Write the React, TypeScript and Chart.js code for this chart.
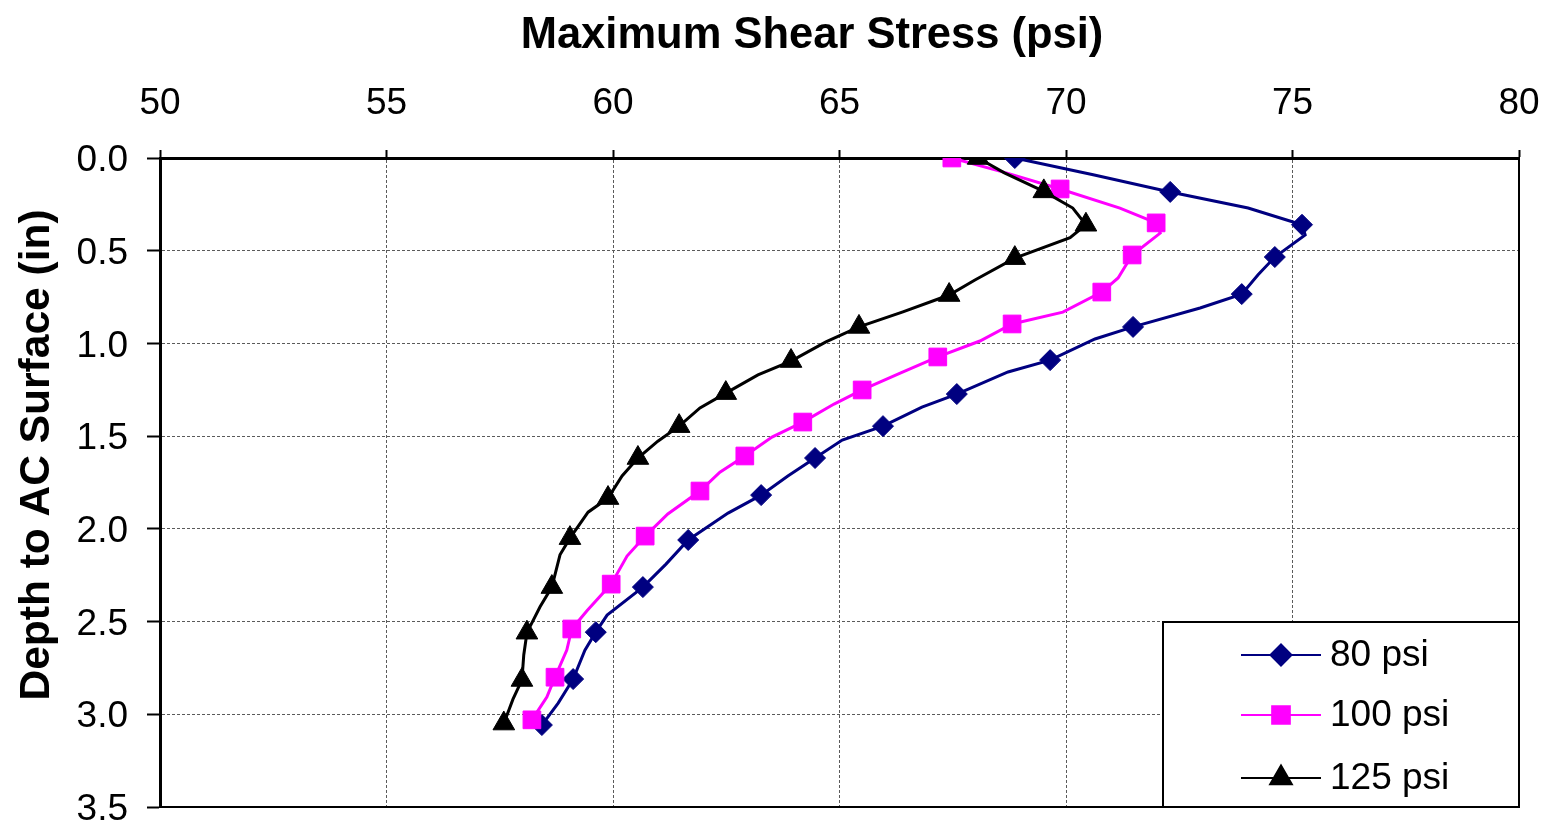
import React, { useEffect, useRef } from 'react';
import { Chart, registerables } from 'chart.js';
import { drawPoint } from 'chart.js/helpers';

Chart.register(...registerables);

const FONT = "'Liberation Sans', Arial, sans-serif";

// Maximum shear stress (psi) against depth below the AC surface (in).
// Even indices carry a marker; odd indices are intermediate line points.
const stress80 = [
  68.87, 70.6, 72.3, 74.02, 75.21, 75.28, 74.61, 74.24, 73.88, 72.96, 71.48,
  70.64, 69.65, 68.72, 67.59, 66.82, 65.96, 65.06, 64.46, 63.86, 63.27, 62.54,
  61.66, 61.17, 60.66, 59.87, 59.62, 59.38, 59.12, 58.79, 58.43,
];
const depth80 = [
  0.0, 0.09, 0.183, 0.27, 0.36, 0.415, 0.534, 0.63, 0.734, 0.809, 0.911,
  0.976, 1.09, 1.154, 1.273, 1.343, 1.446, 1.521, 1.618, 1.715, 1.818, 1.915,
  2.06, 2.19, 2.314, 2.465, 2.557, 2.654, 2.81, 2.94, 3.058,
];

const stress100 = [
  67.48, 68.68, 69.87, 71.19, 71.99, 72.08, 71.46, 71.15, 70.79, 69.93, 68.81,
  68.1, 67.17, 66.34, 65.5, 64.88, 64.19, 63.51, 62.91, 62.36, 61.92, 61.21,
  60.71, 60.31, 59.96, 59.43, 59.09, 58.98, 58.72, 58.54, 58.21,
];
const depth100 = [
  0.0, 0.08, 0.167, 0.27, 0.35, 0.405, 0.523, 0.647, 0.723, 0.831, 0.895,
  0.987, 1.073, 1.16, 1.251, 1.327, 1.424, 1.505, 1.607, 1.694, 1.796, 1.92,
  2.039, 2.147, 2.298, 2.44, 2.54, 2.654, 2.8, 2.907, 3.03,
];

const stress125 = [
  68.06, 68.64, 69.51, 70.15, 70.44, 70.09, 68.87, 67.99, 67.42, 66.4, 65.43,
  64.7, 63.93, 63.2, 62.49, 61.92, 61.46, 60.99, 60.55, 60.2, 59.89, 59.45,
  59.05, 58.83, 58.65, 58.39, 58.1, 58.03, 57.99, 57.79, 57.59,
];
const depth125 = [
  0.0, 0.08, 0.18, 0.27, 0.36, 0.43, 0.54, 0.658, 0.739, 0.83, 0.911,
  0.992, 1.095, 1.17, 1.268, 1.348, 1.446, 1.527, 1.618, 1.715, 1.834, 1.91,
  2.05, 2.14, 2.314, 2.42, 2.56, 2.68, 2.815, 2.92, 3.05,
];

const seriesLabels = ['80 psi', '100 psi', '125 psi'];
const seriesColors = ['#000080', '#FF00FF', '#000000'];
const seriesMarkers = ['rectRot', 'rect', 'triangle'];
const markerRadius = [10.5, 12.5, 12.5];

const xTitle = 'Maximum Shear Stress (psi)';
const yTitle = 'Depth to AC Surface (in)';
const xMin = 50;
const xMax = 80;
const xStep = 5;
const yMin = 0;
const yMax = 3.5;
const yStep = 0.5;

const toPoints = (xs: number[], ys: number[]) => xs.map((x, i) => ({ x, y: ys[i] }));

const frameAndTitles = {
  id: 'frameAndTitles',
  beforeDatasetsDraw(chart: any) {
    const { ctx, chartArea } = chart;
    ctx.save();
    ctx.strokeStyle = '#000';
    ctx.lineWidth = 2;
    ctx.beginPath();
    ctx.moveTo(chartArea.right, chartArea.top);
    ctx.lineTo(chartArea.right, chartArea.bottom);
    ctx.lineTo(chartArea.left, chartArea.bottom);
    ctx.stroke();
    ctx.restore();
  },
  afterDraw(chart: any) {
    const { ctx } = chart;
    ctx.save();
    ctx.fillStyle = '#000';
    ctx.font = `bold 43.5px ${FONT}`;
    ctx.textAlign = 'center';
    ctx.textBaseline = 'alphabetic';
    ctx.fillText(xTitle, 812, 48);

    ctx.translate(49, 455);
    ctx.rotate(-Math.PI / 2);
    ctx.font = `bold 42.5px ${FONT}`;
    ctx.fillText(yTitle, 0, 0);
    ctx.restore();

    // Legend box in the lower-right corner of the plot
    const box = { left: 1163, top: 622, right: 1519, bottom: 807 };
    const rows = [655, 715, 778];
    ctx.save();
    ctx.fillStyle = '#fff';
    ctx.fillRect(box.left, box.top, box.right - box.left, box.bottom - box.top);
    ctx.strokeStyle = '#000';
    ctx.lineWidth = 2;
    ctx.strokeRect(box.left, box.top, box.right - box.left, box.bottom - box.top);
    chart.data.datasets.forEach((ds: any, i: number) => {
      const y = rows[i];
      ctx.strokeStyle = ds.borderColor;
      ctx.fillStyle = ds.backgroundColor;
      ctx.lineWidth = 2;
      ctx.beginPath();
      ctx.moveTo(1241, y);
      ctx.lineTo(1321, y);
      ctx.stroke();
      drawPoint(ctx, { pointStyle: ds.pointStyle, radius: markerRadius[i], rotation: 0, borderWidth: 1 }, 1281, y);
      ctx.fillStyle = '#000';
      ctx.font = `37px ${FONT}`;
      ctx.textAlign = 'left';
      ctx.textBaseline = 'middle';
      ctx.fillText(ds.label, 1330, y + 1);
    });
    ctx.restore();
  },
};

export default function App() {
  const canvasRef = useRef<HTMLCanvasElement | null>(null);

  useEffect(() => {
    const canvas = canvasRef.current;
    if (!canvas) return;
    const series = [
      toPoints(stress80, depth80),
      toPoints(stress100, depth100),
      toPoints(stress125, depth125),
    ];
    const chart = new Chart(canvas, {
      type: 'scatter',
      data: {
        datasets: series.map((pts, i) => ({
          label: seriesLabels[i],
          data: pts,
          showLine: true,
          borderColor: seriesColors[i],
          backgroundColor: seriesColors[i],
          borderWidth: 3,
          pointStyle: seriesMarkers[i],
          pointRadius: (c: any) => (c.dataIndex % 2 === 0 ? markerRadius[i] : 0),
          pointHoverRadius: (c: any) => (c.dataIndex % 2 === 0 ? markerRadius[i] : 0),
          pointBorderWidth: 1,
          pointBorderColor: seriesColors[i],
          pointBackgroundColor: seriesColors[i],
          tension: 0,
          order: 3 - i,
        })),
      },
      options: {
        responsive: false,
        animation: false,
        devicePixelRatio: 1,
        layout: { padding: { left: 0, right: 25, top: 0, bottom: 18 } },
        plugins: {
          legend: { display: false },
          tooltip: { enabled: false },
        },
        scales: {
          x: {
            type: 'linear',
            position: 'top',
            min: xMin,
            max: xMax,
            afterFit: (s: any) => {
              s.height = 158;
              s.paddingLeft = 0;
              s.paddingRight = 0;
            },
            ticks: {
              stepSize: xStep,
              color: '#000',
              font: { family: FONT, size: 37 },
              padding: 24,
              maxRotation: 0,
            },
            grid: {
              color: '#5a5a5a',
              lineWidth: 1,
              tickLength: 8,
              tickColor: '#000',
              tickWidth: 2,
              tickBorderDash: [],
            },
            border: { display: true, color: '#000', width: 3, dash: [3, 2] },
          },
          y: {
            type: 'linear',
            reverse: true,
            min: yMin,
            max: yMax,
            afterFit: (s: any) => {
              s.width = 160;
              s.paddingTop = 0;
              s.paddingBottom = 0;
            },
            ticks: {
              stepSize: yStep,
              color: '#000',
              font: { family: FONT, size: 37 },
              padding: 19,
              labelOffset: 3,
              callback: (v: any) => Number(v).toFixed(1),
            },
            grid: {
              color: '#5a5a5a',
              lineWidth: 1,
              tickLength: 13,
              tickColor: '#000',
              tickWidth: 2,
              tickBorderDash: [],
            },
            border: { display: true, color: '#000', width: 3, dash: [3, 2] },
          },
        },
      } as any,
      plugins: [frameAndTitles],
    });
    return () => chart.destroy();
  }, []);

  return (
    <div style={{ position: 'fixed', left: 0, top: 0, width: 1544, height: 825, background: '#fff' }}>
      <canvas ref={canvasRef} width={1544} height={825} style={{ width: 1544, height: 825, display: 'block' }} />
    </div>
  );
}
